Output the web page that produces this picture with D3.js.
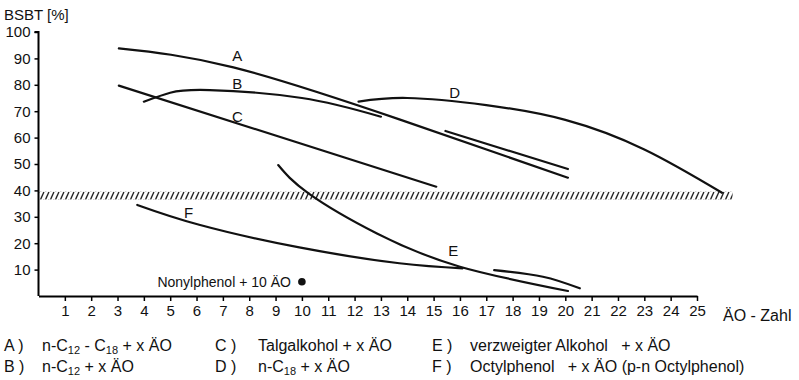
<!DOCTYPE html>
<html>
<head>
<meta charset="utf-8">
<script src="https://cdn.jsdelivr.net/npm/d3@7"></script>
<style>
  html, body { margin: 0; padding: 0; background: #fff; }
  svg { display: block; }
  text { font-family: "Liberation Sans", Arial, sans-serif; fill: #111; }
</style>
</head>
<body>
<svg id="chart" width="799" height="380"></svg>
<script>
// ÄO-Zahl (x) vs. BSBT in % (y)
const xTicks = d3.range(1, 26);
const yTicks = [10, 20, 30, 40, 50, 60, 70, 80, 90, 100];

const curveA  = [[3.05, 93.8], [7.4, 86.6], [13.7, 66.9], [20.1, 44.8]];
const curveB  = [[4.0, 73.6], [5.0, 77.0], [6.5, 78.0], [10, 75.0], [13.0, 67.9]];
const curveB2 = [[15.45, 62.5], [20.1, 48.1]];
const curveC  = [[3.05, 79.7], [15.1, 41.4]];
const curveD  = [[12.15, 73.6], [14, 75.0], [17, 72.3], [20, 66.7], [23, 55.5], [25.95, 39.1]];
const curveE  = [[9.1, 49.6], [10.25, 38.9], [12.85, 23.7], [16, 11.1], [20.1, 1.9]];
const curveF  = [[3.75, 34.5], [6.1, 27], [9.9, 18.4], [13.7, 12.4], [16.1, 10.5]];
const curveF2 = [[17.3, 9.8], [19.15, 7.3], [20.55, 2.9]];

const curveLabels = [
  { t: "A", x: 7.55, y: 90.5 },
  { t: "B", x: 7.55, y: 80 },
  { t: "C", x: 7.55, y: 67.5 },
  { t: "D", x: 15.8, y: 76.5 },
  { t: "E", x: 15.75, y: 16.7 },
  { t: "F", x: 5.7, y: 31 }
];

const band = { x0: 0, x1: 26.35, y0: 36.5, y1: 39.5 };
const nonylphenol = { x: 10, y: 5.4, label: "Nonylphenol + 10 ÄO" };

const legendRows = [
  [{ k: "A )", parts: [["n-C", 0], ["12", 1], [" - C", 0], ["18", 1], [" + x ÄO", 0]] },
   { k: "C )", parts: [["Talgalkohol + x ÄO", 0]] },
   { k: "E )", parts: [["verzweigter Alkohol   + x ÄO", 0]] }],
  [{ k: "B )", parts: [["n-C", 0], ["12", 1], [" + x ÄO", 0]] },
   { k: "D )", parts: [["n-C", 0], ["18", 1], [" + x ÄO", 0]] },
   { k: "F )", parts: [["Octylphenol   + x ÄO (p-n Octylphenol)", 0]] }]
];

const svg = d3.select("#chart");
const x = d3.scaleLinear().domain([0, 25]).range([38.5, 697]);
const y = d3.scaleLinear().domain([0, 100]).range([296, 32]);

// hatch pattern for the threshold band
const defs = svg.append("defs");
const ph = y(band.y0) - y(band.y1);
const pat = defs.append("pattern")
  .attr("id", "hatch").attr("patternUnits", "userSpaceOnUse")
  .attr("width", 5).attr("height", ph)
  .attr("y", y(band.y1));
pat.append("line").attr("x1", 0.5).attr("y1", ph).attr("x2", 4).attr("y2", 0)
  .attr("stroke", "#111").attr("stroke-width", 1.3);

svg.append("rect")
  .attr("x", x(band.x0)).attr("y", y(band.y1))
  .attr("width", x(band.x1) - x(band.x0)).attr("height", ph)
  .attr("fill", "url(#hatch)");

// axes
const yAxis = d3.axisLeft(y).tickValues(yTicks).tickSize(4).tickSizeOuter(0).tickPadding(4);
const gy = svg.append("g").attr("transform", `translate(${x(0)},0)`).call(yAxis);
gy.select(".domain").attr("d", `M0,${y(0)}V${y(100)}H-4`).attr("stroke-width", 2);
gy.selectAll(".tick line").attr("stroke-width", 1.5);
gy.selectAll(".tick text").attr("font-size", 15).attr("font-family", "Liberation Sans, Arial, sans-serif").attr("fill", "#111");

const xAxis = d3.axisBottom(x).tickValues(xTicks).tickSize(5).tickSizeOuter(0).tickPadding(4);
const gx = svg.append("g").attr("transform", `translate(0,${y(0)})`).call(xAxis);
gx.select(".domain").attr("stroke-width", 2);
gx.selectAll(".tick line").attr("stroke-width", 1.5);
gx.selectAll(".tick text").attr("font-size", 15).attr("font-family", "Liberation Sans, Arial, sans-serif").attr("fill", "#111");

svg.append("text").attr("x", x(25) + 26).attr("y", y(0) + 25)
  .attr("font-size", 16).text("ÄO - Zahl");
svg.append("text").attr("x", 4).attr("y", 20)
  .attr("font-size", 15).text("BSBT [%]");

// curves
const line = d3.line().x(d => x(d[0])).y(d => y(d[1])).curve(d3.curveNatural);
[curveA, curveB, curveB2, curveC, curveD, curveE, curveF, curveF2].forEach(pts => {
  svg.append("path").attr("d", line(pts))
    .attr("fill", "none").attr("stroke", "#111").attr("stroke-width", 2.2)
    .attr("stroke-linecap", "round");
});

svg.selectAll("text.cl").data(curveLabels).join("text")
  .attr("class", "cl")
  .attr("x", d => x(d.x)).attr("y", d => y(d.y))
  .attr("text-anchor", "middle").attr("dominant-baseline", "middle")
  .attr("font-size", 15).text(d => d.t);

// single point
svg.append("circle").attr("cx", x(nonylphenol.x)).attr("cy", y(nonylphenol.y))
  .attr("r", 3.8).attr("fill", "#111");
svg.append("text").attr("x", x(nonylphenol.x) - 11).attr("y", y(nonylphenol.y) + 5)
  .attr("text-anchor", "end").attr("font-size", 14).text(nonylphenol.label);

// legend
const colKey = [4, 215, 432];
const colText = [42, 258, 470];
const rowY = [351, 372];
legendRows.forEach((row, r) => {
  row.forEach((item, c) => {
    svg.append("text").attr("x", colKey[c]).attr("y", rowY[r]).attr("font-size", 16)
      .attr("xml:space", "preserve").text(item.k);
    const t = svg.append("text").attr("x", colText[c]).attr("y", rowY[r])
      .attr("font-size", 16).attr("xml:space", "preserve");
    let lowered = false;
    item.parts.forEach(([s, sub]) => {
      if (sub) {
        t.append("tspan").attr("font-size", 11).attr("dy", lowered ? 0 : 2.5).text(s);
        lowered = true;
      } else {
        t.append("tspan").attr("font-size", 16).attr("dy", lowered ? -2.5 : 0).text(s);
        lowered = false;
      }
    });
  });
});
</script>
</body>
</html>
